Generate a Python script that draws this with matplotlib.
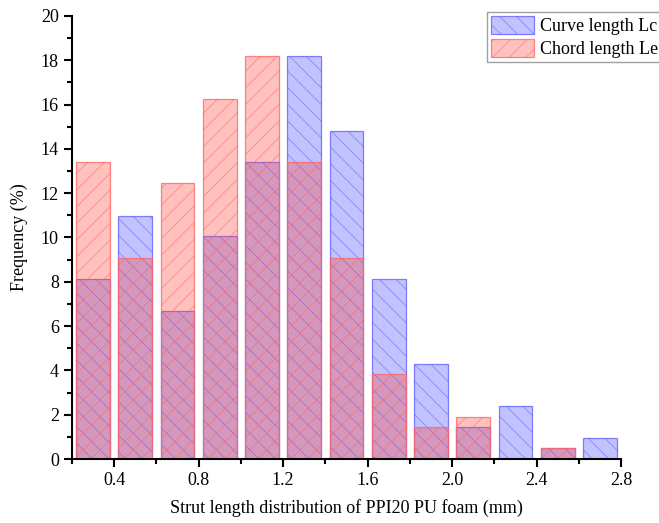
import matplotlib
matplotlib.use('Agg')
import matplotlib.pyplot as plt
from matplotlib.ticker import MultipleLocator
import numpy as np

plt.rcParams['font.family'] = ['Liberation Serif', 'DejaVu Serif']
plt.rcParams['hatch.linewidth'] = 0.45

# bin centres (mm) and frequencies (%)
centres = [0.3, 0.5, 0.7, 0.9, 1.1, 1.3, 1.5, 1.7, 1.9, 2.1, 2.3, 2.5, 2.7]
curve_lc = [8.13, 10.98, 6.70, 10.05, 13.40, 18.18, 14.83, 8.13, 4.31, 1.44, 2.39, 0.48, 0.96]
chord_le = [13.40, 9.09, 12.44, 16.27, 18.18, 13.40, 9.09, 3.83, 1.44, 1.91, 0.0, 0.48, 0.0]
labels = ['Curve length Lc', 'Chord length Le']

fig = plt.figure(figsize=(6.59, 5.23), dpi=100)
ax = fig.add_axes([72/659, 1-459/523, (621-72)/659, (459-16)/523])

w = 0.16
ax.bar(centres, curve_lc, width=w, facecolor=(0.0, 0.0, 1.0, 0.24),
       edgecolor=(0.35, 0.35, 1.0, 0.75), linewidth=0.9, hatch='\\\\', label=labels[0])
ax.bar(centres, chord_le, width=w, facecolor=(1.0, 0.25, 0.2, 0.32),
       edgecolor=(1.0, 0.4, 0.4, 0.8), linewidth=0.9, hatch='//', label=labels[1])

ax.set_xlim(0.2, 2.8)
ax.set_ylim(0, 20)
ax.xaxis.set_major_locator(MultipleLocator(0.4))
ax.xaxis.set_minor_locator(MultipleLocator(0.2))
ax.yaxis.set_major_locator(MultipleLocator(2))
ax.yaxis.set_minor_locator(MultipleLocator(1))
ax.set_xticks([0.4, 0.8, 1.2, 1.6, 2.0, 2.4, 2.8])
ax.set_xticklabels(['0.4', '0.8', '1.2', '1.6', '2.0', '2.4', '2.8'])

ax.spines['top'].set_visible(False)
ax.spines['right'].set_visible(False)
for s in ['left', 'bottom']:
    ax.spines[s].set_linewidth(1.5)
ax.tick_params(which='major', direction='out', length=6, width=1.5, labelsize=13)
ax.tick_params(which='minor', direction='out', length=3.5, width=1.5)

ax.set_xlabel('Strut length distribution of PPI20 PU foam (mm)', fontsize=13, labelpad=7)
ax.set_ylabel('Frequency (%)', fontsize=13, labelpad=9)

leg = ax.legend(loc='upper left', bbox_to_anchor=(487/659, 1-12/523), bbox_transform=fig.transFigure,
                fontsize=13, frameon=True, fancybox=False, borderaxespad=0, handlelength=2.4,
                handleheight=1.2, handletextpad=0.35, borderpad=0.2, labelspacing=0.2)
leg.get_frame().set_edgecolor('#888888')
leg.get_frame().set_linewidth(1.0)

fig.savefig('out.png', dpi=100)
